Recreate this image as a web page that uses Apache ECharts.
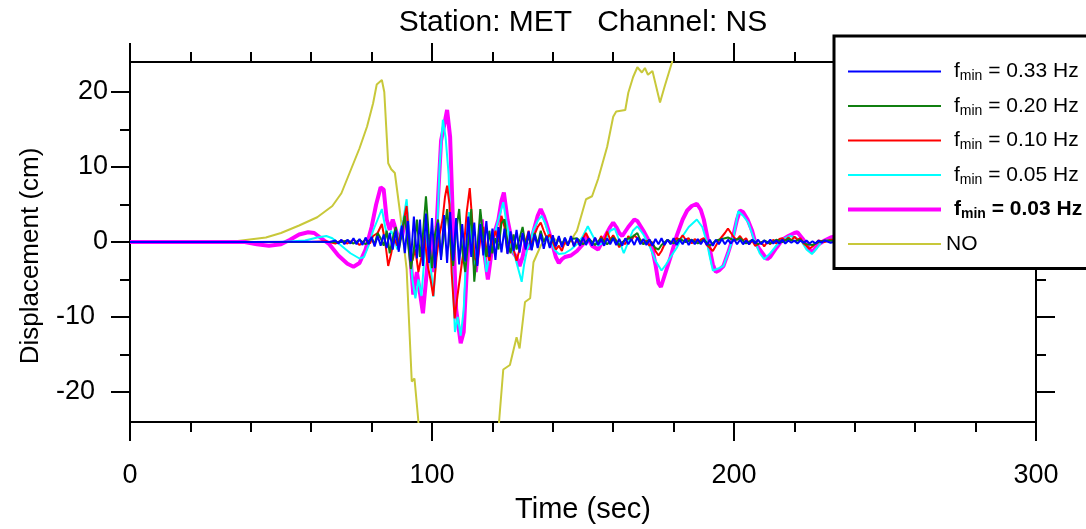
<!DOCTYPE html>
<html><head><meta charset="utf-8">
<script src="https://cdn.jsdelivr.net/npm/echarts@6/dist/echarts.min.js"></script>
<style>html,body{margin:0;padding:0;background:#fff}#c{width:1086px;height:529px}</style>
</head><body><div id="c"></div>
<script>
const TITLE = 'Station: MET   Channel: NS';
const X_NAME = 'Time (sec)';
const Y_NAME = 'Displacement (cm)';
const X_TICKS = [0, 100, 200, 300];
const Y_TICKS = [-20, -10, 0, 10, 20];
const Y_MINOR = [-15, -5, 5, 15];
const NAMES = ['0.33', '0.20', '0.10', '0.05', '0.03', 'NO'];
const COLORS = ['#0000ff', '#107f10', '#ff0000', '#00ffff', '#ff00ff', '#c8c83a'];

// fmin = 0.33 Hz
const f033 = [[0,0],[40,0],[60,0.05],[66,0],
[68,0.2],[69,-0.2],[70,0.3],[71,-0.3],[72,0.3],[73,-0.2],[74,0.5],[75,-0.3],[76,0.4],[77,-0.4],[78,0.6],[79,-0.3],
[80,0.7],[81,-0.6],[82,0.8],[83,-0.5],[84,1.0],[85,-0.8],[86,1.2],[87,-1.0],[88,1.5],[89,-1.3],
[90,2.2],[91,-1.5],[92,2.8],[93,-2.6],[94,3.4],[95,-2.2],[96,3.0],[97,-3.2],[98,3.8],[99,-2.8],
[100,3.2],[101,-3.5],[102,2.6],[103,-2.4],[104,3.6],[105,-2.8],[106,4.0],[107,-2.5],[108,3.2],[109,-3.0],
[110,2.4],[111,-2.6],[112,3.4],[113,-2.0],[114,2.6],[115,-3.2],[116,2.4],[117,-1.8],[118,2.8],[119,-2.0],
[120,1.8],[121,-2.4],[122,2.0],[123,-1.4],[124,1.8],[125,-1.6],[126,1.4],[127,-1.2],[128,1.6],[129,-1.4],
[130,1.2],[131,-1.0],[132,1.4],[133,-1.1],[134,1.0],[135,-0.8],[136,1.1],[137,-0.9],[138,0.8],[139,-0.8],
[140,0.9],[141,-0.6],[142,0.8],[143,-0.7],[144,0.6],[145,-0.5],[146,0.8],[147,-0.6],[148,0.5],[149,-0.5],
[150,0.6],[151,-0.4],[152,0.5],[153,-0.5],[154,0.6],[155,-0.4],[156,0.4],[157,-0.5],[158,0.5],[159,-0.3],
[160,0.5],[161,-0.4],[162,0.4],[163,-0.5],[164,0.5],[165,-0.3],[166,0.4],[167,-0.4],[168,0.6],[169,-0.3],
[170,0.4],[171,-0.4],[172,0.3],[173,-0.5],[174,0.4],[175,-0.3],[176,0.5],[177,-0.4],[178,0.3],[179,-0.3],
[180,0.5],[181,-0.4],[182,0.3],[183,-0.3],[184,0.4],[185,-0.4],[186,0.3],[187,-0.3],[188,0.4],[189,-0.3],
[190,0.3],[191,-0.4],[192,0.3],[193,-0.5],[194,0.3],[195,-0.3],[196,0.4],[197,-0.3],[198,0.3],[199,-0.2],
[200,0.4],[201,-0.3],[202,0.3],[203,-0.3],[204,0.2],[205,-0.3],[206,0.3],[207,-0.2],[208,0.3],[209,-0.3],
[210,0.2],[211,-0.2],[212,0.3],[213,-0.2],[214,0.2],[215,-0.2],[216,0.3],[217,-0.2],[218,0.2],[219,-0.1],
[220,0.2],[221,-0.2],[222,0.2],[223,-0.1],[224,0.2],[225,-0.2],[226,0.1],[227,-0.2],[228,0.2],[229,-0.1],
[230,0.2],[232,-0.1],[234,0.1],[236,-0.1],[238,0.1],[240,0],[300,0]];

// fmin = 0.20 Hz
const f020 = [[0,0],[70,0],[72,0.2],[74,-0.2],[76,0.3],[78,-0.3],[80,0.5],[81,-0.3],[82,1.2],[83,0.5],[84,-0.5],
[85,1.5],[86,-1.5],[87,0.5],[88,2],[89,-1],[90,1],[91,3.5],[92,0],[93,-3.6],[94,-1],[95,3],[96,-2],[97,1],
[98,6.1],[99,0.5],[100,-3.5],[101,1],[102,3],[103,-2],[104,1],[105,4.4],[106,0],[107,-3.2],[108,1.5],[109,4.4],
[110,-1],[111,-4],[112,0],[113,4.4],[114,-5.3],[115,-1],[116,4.4],[117,0.5],[118,-2],[119,1.5],[120,-1.5],
[121,0.5],[122,-1],[123,2.5],[124,3],[125,0],[126,-1.5],[127,1],[128,-1],[129,0.5],[130,2],[131,-0.5],
[132,0.8],[133,-1],[134,1.2],[135,-0.3],[136,1.5],[137,0],[138,0.8],[139,-0.6],[140,0.5],[141,-0.5],[142,0.6],
[143,-0.4],[144,0.5],[145,-0.3],[146,0.4],[148,0.5],[150,-0.3],[152,0.4],[154,-0.4],[156,0.5],[158,-0.3],
[160,0.6],[162,-0.4],[164,0.3],[166,0.6],[168,1.2],[169,0.2],[170,-0.3],[172,0.3],[174,-0.8],[175,-1],
[176,-0.4],[178,0.3],[180,-0.2],[182,0.4],[184,0],[186,0.3],[188,-0.2],[190,0.3],[192,-0.5],[194,0.2],
[196,0.4],[198,0.6],[200,0.2],[202,0.5],[204,-0.2],[206,0.3],[208,-0.3],[210,0.2],[212,-0.2],[214,0.3],
[216,0],[218,0.4],[220,0.1],[222,0.3],[224,-0.3],[226,-0.4],[228,0],[230,0.2],[235,0.1],[240,0],[300,0]];

// fmin = 0.10 Hz
const f010 = [[0,0],[60,0],[65,0.1],[68,-0.2],[70,0.2],[72,-0.2],[74,0.3],[76,-0.4],[78,0.3],[79.5,-0.2],
[80.5,0.8],[82,1.2],[83.4,2.4],[84.5,0],[85.5,-3.2],[86.5,-1.5],[87.5,0.5],[88.5,-0.5],[89.5,1],[90.5,2.5],
[91.6,4.8],[92.5,0],[93.5,-2.5],[94.5,-1],[95.5,-4],[96.5,-2],[97.5,1],[98.5,-3],[99.5,-5],[100.4,-7.2],
[101.5,-2],[102.5,1],[103.5,3],[104.3,6],[105,7.5],[105.8,5],[106.5,-4],[107.5,-10.2],[108.5,-7],[109.5,-4],
[110.5,-1],[111.5,4],[112.5,7.2],[113.3,3],[114,-2],[115,-3],[116,0.5],[117,2],[118,-1],[119,-2.5],[120,0],
[121,1.5],[122,0],[123,3.5],[124,2],[125,-1.5],[126,0.5],[127,-1],[128,-2.5],[129,-1],[130,1],[131,0],
[132,1.5],[133,-0.5],[134,1],[135,2],[136,2.6],[137,1.5],[138,0.5],[139,1],[140,0],[141,-1],[142,-0.5],
[143,-1.2],[144,0],[145,-0.3],[146,0.5],[147,-0.5],[148,0.3],[149,-0.5],[150,0.5],[151,1.2],[152,0.3],
[153,-0.3],[154,0.5],[155,-0.2],[156,0.8],[157,0],[158,1.4],[159,0.3],[160,0.9],[161,0.2],[162,-0.7],
[163,0],[164,-0.3],[165,0.8],[166,0.2],[167,0.9],[168,0.5],[169,0.3],[170,-0.2],[171,0.2],[172,-0.5],
[173,0],[174,-1.2],[175,-1.8],[176,-1.2],[177,-0.3],[178,0.3],[179,-0.2],[180,0.2],[181,0.5],[182,0.3],
[183,0.9],[184,0.3],[185,0.5],[186,-0.2],[187,0.4],[188,0],[189,0.3],[190,0.5],[191,-0.4],[192,-0.8],
[193,-1.2],[194,-0.5],[195,0.2],[196,0.7],[197,1.2],[198,1.8],[199,1.2],[200,0.6],[201,0.3],[202,0.8],
[203,0.2],[204,0.5],[205,-0.3],[206,0.2],[207,-0.5],[208,-0.3],[209,0],[210,-0.6],[211,0],[212,-0.3],
[213,0.3],[214,-0.2],[215,0.4],[216,0.5],[217,0.2],[218,0.6],[219,0.2],[220,0.7],[221,0.3],[222,0.5],
[223,-0.2],[224,-0.5],[225,-0.9],[226,-0.6],[227,-0.2],[228,0.2],[230,0],[232,0.3],[235,0.4],[240,0],[300,0]];

// fmin = 0.05 Hz
const f005 = [[0,0],[50,0],[58,0.2],[62,0.6],[65,0.8],[67,0.5],[70,-0.5],[73,-1.5],[76,-2.2],[77.5,-2],
[79,-0.5],[80.5,1.5],[82,3],[83.4,4.4],[84.5,2],[85.5,0.3],[86.5,1.5],[87.5,0.5],[88.5,-1],[89.5,1.5],
[90.5,3],[91.6,5.7],[92.5,1],[93.5,-5],[94.5,-7.5],[95.5,-5],[96.5,-7.2],[97.5,-2],[98.5,2],[99.5,-3],
[100.5,-7.3],[101.5,-1],[102.5,10],[103.6,16.3],[104.5,14],[105.5,9],[106.5,-2],[107.6,-12],[108.5,-10],
[109.5,-12.5],[110.5,-9],[111.5,0],[112.2,4],[113,1],[114,-3],[115,-1],[116,2.5],[117,0],[118,-4],[119,-2],
[120,0],[121,1.5],[122,3],[123.6,5.3],[124.5,3],[125.5,1],[126.5,-1],[127.5,-2],[128.5,-3.5],[129.7,-5.3],
[130.5,-3],[131.5,-1],[132.5,0],[133.5,1.5],[135,2.8],[136.3,3.5],[137.5,2.5],[139,0.5],[140.5,-1],[142,-1.6],
[144,-1.5],[146,-1],[148,-0.3],[150,0.8],[151.6,2.1],[153,1],[155,-0.5],[157,0],[159,1.5],[160.5,1.8],
[162,0.2],[163.5,-1.5],[165,0],[166.5,1.5],[168,2.1],[170,1],[172,-0.5],[174,-2.5],[176,-3.8],[177.5,-3],
[179,-2],[181,-0.8],[183,0.8],[185,2],[187.7,3],[189.5,2],[191,0],[192,-2],[193,-3.8],[195,-3.5],[196.5,-3.2],
[198.5,-1],[200,1],[201.4,4.1],[203,3.5],[204.7,2.6],[206.5,0.5],[208.5,-1.5],[210,-2.3],[212,-1.5],[214,-0.5],
[216,0.3],[218.5,0.8],[220.5,0.6],[222.5,0],[224,-1],[225.8,-1.6],[227.5,-0.8],[229,0],[232,0.3],[235,0.5],
[240,0],[300,0]];

// fmin = 0.03 Hz
const f003 = [[0,0],[38,0],[42,-0.3],[46,-0.5],[50,-0.3],[53,0.3],[56,1.0],[59,1.3],[61,1.2],[63,0.6],[66,-0.3],
[69,-1.8],[72,-2.9],[74,-3.3],[76,-2.8],[78,-1],[80,2],[81.5,5],[83,7.3],[84,7],[85,3],[86,1.6],[87,3],
[88.5,1],[90,0.5],[91.5,4],[92.5,0],[93.8,-7],[95,-4],[97,-9.5],[98.5,-3],[99.5,1],[100.5,-4],[101.5,2],
[103,13.5],[104,15.5],[105,17.6],[106,14],[107,2],[108,-9],[109.5,-13.5],[110.5,-12],[111.5,-4],[112.5,2.6],
[113.5,-1],[114.5,-4],[115.5,0],[116.5,3],[117.5,-2],[118.5,-5],[119.5,-2],[120.5,1],[122,3],[123,5.5],
[123.8,6.6],[125,3],[126,1],[127,-1.5],[128,-2],[129,-3.2],[130,-2],[131,0],[132,-1],[133,0.5],[134,2],
[135,3.5],[136,4.4],[137,3.5],[138,2.3],[139,1],[140,-0.5],[141,-2],[142,-2.8],[143,-2.3],[144,-2],[145,-1.9],
[146,-1.8],[148,-1.2],[150,-0.3],[151,0.8],[152,0.2],[153,-0.5],[155,-1],[157,0.5],[159,2],[160,2.6],[161,2],
[162,1.2],[163,0.8],[165,2],[167,3],[168,2.8],[170,1.5],[172,0],[173,-1],[174,-3],[175,-5.5],[175.8,-6],
[177,-4.5],[179,-2],[181,0.8],[183,3],[184.5,4.2],[186,4.8],[187.7,5.1],[189,4.3],[190,3],[191,1],[192,-1],
[193,-3],[194,-4],[195,-3.8],[196.5,-3.2],[198,-1.5],[199.5,0.4],[201,3],[202,4.2],[203,4],[204.5,3],[206,1.5],
[207,0],[208.5,-1],[210,-1.8],[211,-2.3],[212,-2],[214,-0.8],[216,0.3],[218,0.8],[220,1.2],[221,1.3],[223,0.3],
[225,-1],[226,-1.3],[228,-0.3],[230,0.2],[232,0.6],[234,0.8],[236,0.5],[240,0],[300,0]];

// no filter (runs off the plot)
const fNO = [[0,0],[20,0],[35,0.1],[45,0.6],[50,1.2],[56,2.2],[62,3.3],[67,4.8],[70,6.5],[72.8,9.3],[76,12.5],[78.5,15.4],
[80.5,18.5],[81.7,21],[83.4,21.6],[84.2,20],[85.5,10.5],[86.5,9.7],[87.7,9.2],[89.4,4],[91.6,-3.6],
[93.3,-18.6],[94.2,-18.2],[95.4,-23.5],[97,-32],[100,-40],[118,-40],[121,-30],[122.3,-23.5],[123.6,-17],
[125.8,-16.4],[128,-12.7],[129,-14.2],[130.8,-8],[132.5,-7.5],[133.6,-2.7],[136,-0.5],[138,0.8],[141,0.3],
[145,-0.4],[148,1.5],[151,5.7],[153,6.1],[155,8.4],[158,12.7],[160,16.7],[161,17.4],[164,17.6],[165,19.9],
[166.6,22],[168,23.3],[169.5,22.6],[170.5,23.2],[171.5,22.3],[173,22.8],[175.5,18.6],[177,20.7],[179.5,24],[182,30]];

const DATA = [f033, f020, f010, f005, f003, fNO];
const WIDTHS = [2, 2, 2, 2, 4, 2];

const FONT = 'Liberation Sans';
const chart = echarts.init(document.getElementById('c'), null, {renderer: 'canvas'});

const axisLine = {show: true, onZero: false, lineStyle: {color: '#000', width: 2}};
function xAx(pos, labels) {
  return {
    type: 'value', position: pos, min: 0, max: 300, interval: 100,
    axisLine: axisLine, splitLine: {show: false},
    axisTick: {show: true, length: 19, lineStyle: {color: '#000', width: 2}},
    minorTick: {show: true, splitNumber: 5, length: 10, lineStyle: {color: '#000', width: 2}},
    axisLabel: {show: labels, fontSize: 27, color: '#000', fontFamily: FONT, margin: 40},
    name: labels ? X_NAME : '', nameLocation: 'middle', nameGap: 73,
    nameTextStyle: {fontSize: 29, color: '#000', fontFamily: FONT}
  };
}
function yAx(pos, labels, ticks, len, line) {
  return {
    type: 'value', position: pos, min: -24, max: 24,
    axisLine: line ? axisLine : {show: false, onZero: false}, splitLine: {show: false},
    axisTick: {show: true, length: len, customValues: ticks, lineStyle: {color: '#000', width: 2}},
    axisLabel: {show: labels, customValues: ticks, color: '#000', fontFamily: FONT, fontSize: 27, margin: 22,
      formatter: v => v < 0 ? '{n|' + v + '}' : '{p|' + v + '}',
      rich: {n: {fontSize: 27, fontFamily: FONT, padding: [0, 13, 0, 0]}, p: {fontSize: 27, fontFamily: FONT}}},
    name: labels ? Y_NAME : '', nameLocation: 'middle', nameGap: 86,
    nameTextStyle: {fontSize: 26, color: '#000', fontFamily: FONT, padding: [0, 28, 0, 0]}
  };
}

function lineIcon(w) {
  const a = 7 - w / 2, b = 7 + w / 2;
  return 'path://M0,0L0.01,0M0,' + a + 'L93,' + a + 'L93,' + b + 'L0,' + b + 'ZM93,14L92.99,14';
}

const order = [5, 4, 3, 2, 1, 0]; // draw NO first, 0.33 last (on top)
const series = order.map(i => ({
  name: NAMES[i], type: 'line', data: DATA[i], showSymbol: false, symbol: 'none',
  xAxisIndex: 0, yAxisIndex: 0, animation: false, clip: true,
  lineStyle: {color: COLORS[i], width: WIDTHS[i]}, itemStyle: {color: COLORS[i]}
}));

chart.setOption({
  animation: false,
  backgroundColor: '#fff',
  title: {text: TITLE, left: 578, top: 3, textAlign: 'center',
    textStyle: {fontSize: 30, fontWeight: 'normal', color: '#000', fontFamily: FONT}},
  grid: {left: 130, right: 50, top: 62, bottom: 105, containLabel: false},
  xAxis: [xAx('bottom', true), xAx('top', false)],
  yAxis: [yAx('left', true, Y_TICKS, 19, true), yAx('right', false, Y_TICKS, 19, true),
          yAx('left', false, Y_MINOR, 10, false), yAx('right', false, Y_MINOR, 10, false)],
  legend: {
    orient: 'vertical', left: 834, top: 36, z: 20, selectedMode: false,
    backgroundColor: '#fff', borderColor: '#000', borderWidth: 3, borderRadius: 0,
    padding: [25, 80, 14, 14], itemWidth: 93, itemHeight: 14, itemGap: 12,
    data: NAMES.map((n, i) => ({name: n, icon: lineIcon(WIDTHS[i]), itemStyle: {color: COLORS[i]}})),
    formatter: function (n) {
      if (n === 'NO') return '{t|NO}';
      if (n === '0.03') return '{fb|f}{sb|min}{tb| = ' + n + ' Hz}';
      return '{f|f}{s|min}{t| = ' + n + ' Hz}';
    },
    textStyle: {
      color: '#000', fontFamily: FONT, fontSize: 21,
      rich: {
        f: {fontSize: 21, lineHeight: 24, padding: [0, 0, 0, 8], fontFamily: FONT},
        s: {fontSize: 14, lineHeight: 24, verticalAlign: 'bottom', fontFamily: FONT},
        t: {fontSize: 21, lineHeight: 24, fontFamily: FONT},
        fb: {fontSize: 21, lineHeight: 24, padding: [0, 0, 0, 8], fontWeight: 'bold', fontFamily: FONT},
        sb: {fontSize: 14, lineHeight: 24, verticalAlign: 'bottom', fontWeight: 'bold', fontFamily: FONT},
        tb: {fontSize: 21, lineHeight: 24, fontWeight: 'bold', fontFamily: FONT}
      }
    }
  },
  series: series
});
</script>
</body></html>
